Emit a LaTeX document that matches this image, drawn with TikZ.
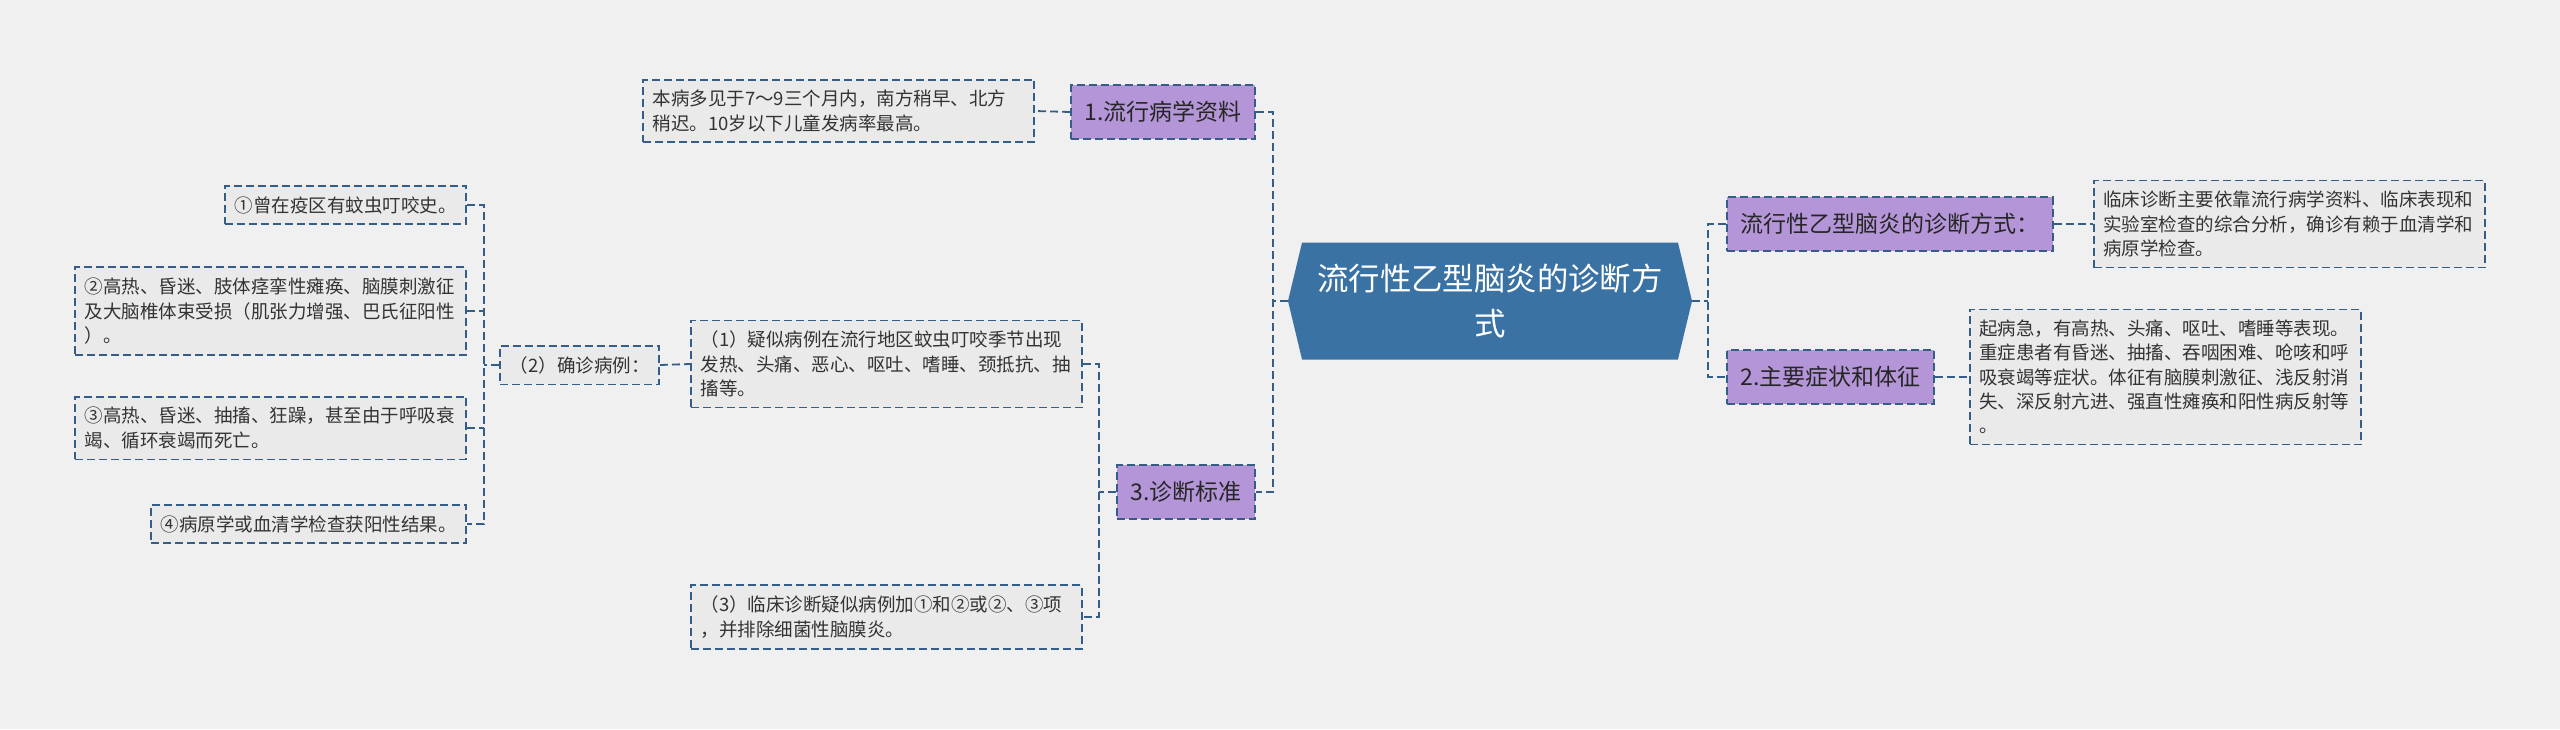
\documentclass[tikz,border=0pt]{standalone}
\usepackage{fontspec}
\setmainfont{Noto Sans CJK SC}
\usepackage{xcolor}
\usetikzlibrary{positioning}
\usetikzlibrary{shapes.symbols}

\definecolor{lineblue}{RGB}{52,94,135}
\definecolor{mainblue}{RGB}{59,114,164}
\definecolor{topicpurple}{RGB}{180,150,216}
\definecolor{leafgray}{RGB}{234,234,234}
\definecolor{paper}{RGB}{240,240,240}

\begin{document}
\begin{tikzpicture}[x=0.5pt, y=-0.5pt,
  border/.style={draw=lineblue, line width=0.9pt, dash pattern=on 4pt off 2pt},
  topic/.style={border, fill=topicpurple, text=black!85, font=\fontsize{11.5}{14}\selectfont, inner xsep=6.75pt, inner ysep=8pt},
  leaf/.style={border, fill=leafgray, text=black!80, align=left, font=\fontsize{9.25}{12.15}\selectfont, inner xsep=4.75pt, inner ysep=5.3pt},
  wide/.style={text width=186pt},
  link/.style={lineblue, line width=0.9pt, dash pattern=on 4pt off 2pt}]

\fill[paper] (0,0) rectangle (2560,729);
\useasboundingbox (0,0) rectangle (2560,729);

% centre
\node[signal, signal to=west and east, signal pointer angle=153, fill=mainblue, text=white,
  minimum width=202pt, minimum height=58.5pt, align=center,
  font=\fontsize{15.7}{22.5}\selectfont] (main) at (1490,301) {流行性乙型脑炎的诊断方\\式};

% spines
\coordinate (lspine) at (1273,301);
\coordinate (rspine) at (1708,301);
\coordinate (dspine) at (1099,492);
\coordinate (cspine) at (484,365);

% topics
{
\node[topic, anchor=east] (t1) at (1256,112) {1.流行病学资料};
\node[topic, anchor=east] (t3) at (1256,492) {3.诊断标准};
\node[topic, anchor=west] (t0) at (1726,224) {流行性乙型脑炎的诊断方式：};
\node[topic, anchor=west] (t2) at (1726,377) {2.主要症状和体征};
}

% text boxes
{
\node[leaf, wide, anchor=east] (tb1) at (1035,111)
  {本病多见于7～9三个月内，南方稍早、北方\\稍迟。10岁以下儿童发病率最高。};
\node[leaf, wide, anchor=west] (tb0) at (2093,224)
  {临床诊断主要依靠流行病学资料、临床表现和\\实验室检查的综合分析，确诊有赖于血清学和\\病原学检查。};
\node[leaf, wide, anchor=west] (tb2) at (1969,377)
  {起病急，有高热、头痛、呕吐、嗜睡等表现。\\重症患者有昏迷、抽搐、吞咽困难、呛咳和呼\\吸衰竭等症状。体征有脑膜刺激征、浅反射消\\失、深反射亢进、强直性瘫痪和阳性病反射等\\。};

\node[leaf, wide, anchor=east] (d1) at (1083,364)
  {（1）疑似病例在流行地区蚊虫叮咬季节出现\\发热、头痛、恶心、呕吐、嗜睡、颈抵抗、抽\\搐等。};
\node[leaf, wide, anchor=east] (d3) at (1083,617)
  {（3）临床诊断疑似病例加①和②或②、③项\\，并排除细菌性脑膜炎。};
\node[leaf, anchor=east] (d2) at (660,365) {（2）确诊病例：};

\node[leaf, anchor=east] (c1) at (467,205) {①曾在疫区有蚊虫叮咬史。};
\node[leaf, wide, anchor=east] (c2) at (467,311)
  {②高热、昏迷、肢体痉挛性瘫痪、脑膜刺激征\\及大脑椎体束受损（肌张力增强、巴氏征阳性\\）。};
\node[leaf, wide, anchor=east] (c3) at (467,428)
  {③高热、昏迷、抽搐、狂躁，甚至由于呼吸衰\\竭、循环衰竭而死亡。};
\node[leaf, anchor=east] (c4) at (467,524) {④病原学或血清学检查获阳性结果。};
}

% links
{
\draw[link] (main.west) -- (lspine);
\draw[link] (t1.east) -| (lspine) |- (t3.east);
\draw[link] (main.east) -- (rspine);
\draw[link] (t0.west) -| (rspine) |- (t2.west);

\draw[link] (t1.west) -- (tb1.east);
\draw[link] (t0.east) -- (tb0.west);
\draw[link] (t2.east) -- (tb2.west);

\draw[link] (t3.west) -- (dspine);
\draw[link] (d1.east) -| (dspine) |- (d3.east);
\draw[link] (d2.east) -- (d1.west);

\draw[link] (d2.west) -- (cspine);
\draw[link] (c1.east) -| (cspine) |- (c4.east);
\draw[link] (c2.east) -- (cspine |- c2.east);
\draw[link] (c3.east) -- (cspine |- c3.east);
}

\end{tikzpicture}
\end{document}
